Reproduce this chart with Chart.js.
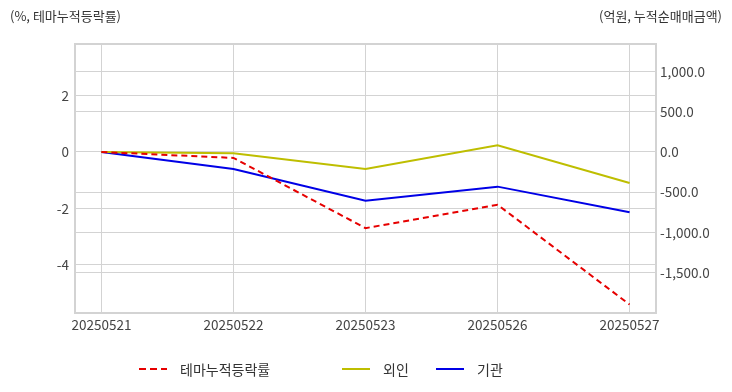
<!DOCTYPE html>
<html>
<head>
<meta charset="utf-8">
<script src="https://cdn.jsdelivr.net/npm/chart.js@4/dist/chart.umd.min.js"></script>
<style>
  body { margin: 0; background: #fff; }
  #wrap { position: relative; width: 732px; height: 392px; }
  .unit { position: absolute; top: 6px; font: 13px "Noto Sans CJK KR", sans-serif; color: #333; }
  #legend { position: absolute; left: 139px; top: 359px; height: 20px; display: flex; align-items: center;
            font: 14px "Noto Sans CJK KR", sans-serif; color: #333; }
  #legend .item { display: flex; align-items: center; }
  #legend .swatch { width: 28px; height: 2px; margin-right: 13px; }
  #legend .item:nth-child(1) { width: 203px; }
  #legend .item:nth-child(2) { width: 94px; }
</style>
</head>
<body>
<div id="wrap">
  <canvas id="chart" width="732" height="392"></canvas>
  <div class="unit" style="left:10px">(%, 테마누적등락률)</div>
  <div class="unit" style="right:10px">(억원, 누적순매매금액)</div>
  <div id="legend"></div>
</div>
<script>
// 날짜 (x축)
var dates = ['20250521', '20250522', '20250523', '20250526', '20250527'];

// 테마 누적 등락률 (%, 왼쪽 축)
var themeRate = [0, -0.21, -2.70, -1.87, -5.41];

// 누적 순매매 금액 (억원, 오른쪽 축)
var foreign = [0, -17, -211, 82, -385];
var institution = [0, -211, -604, -430, -749];

// 축 눈금
var leftTicks = [2, 0, -2, -4];
var rightTicks = [1000, 500, 0, -500, -1000, -1500];

var gridColor = '#d3d3d3';
var font = { family: '"Noto Sans CJK KR", sans-serif', size: 13.5 };

function toPoints(values) {
  return values.map(function (v, i) { return { x: i, y: v }; });
}

// 위쪽 테두리
var topBorder = {
  id: 'topBorder',
  afterDraw: function (chart) {
    var a = chart.chartArea, ctx = chart.ctx;
    ctx.save();
    ctx.strokeStyle = gridColor;
    ctx.lineWidth = 2;
    ctx.beginPath();
    ctx.moveTo(a.left, a.top);
    ctx.lineTo(a.right, a.top);
    ctx.stroke();
    ctx.restore();
  }
};

Chart.defaults.font = font;
Chart.defaults.color = '#444';

var ctx = document.getElementById('chart').getContext('2d');
var myChart = new Chart(ctx, {
  type: 'line',
  data: {
    datasets: [
      {
        label: '테마누적등락률',
        data: toPoints(themeRate),
        yAxisID: 'y',
        borderColor: 'rgb(230, 0, 0)',
        borderWidth: 2,
        borderDash: [6, 4],
        pointRadius: 0
      },
      {
        label: '외인',
        data: toPoints(foreign),
        yAxisID: 'y1',
        borderColor: 'rgb(190, 190, 0)',
        borderWidth: 2,
        pointRadius: 0
      },
      {
        label: '기관',
        data: toPoints(institution),
        yAxisID: 'y1',
        borderColor: 'rgb(0, 0, 230)',
        borderWidth: 2,
        pointRadius: 0
      }
    ]
  },
  options: {
    responsive: false,
    animation: false,
    layout: { padding: { top: 44, left: 0, right: 0, bottom: 51 } },
    plugins: {
      tooltip: { enabled: false },
      legend: { display: false }
    },
    scales: {
      x: {
        type: 'linear',
        min: -0.2,
        max: 4.2,
        afterBuildTicks: function (scale) {
          scale.ticks = dates.map(function (d, i) { return { value: i }; });
        },
        afterFit: function (scale) { scale.height = 28; },
        ticks: {
          padding: 4,
          maxRotation: 0,
          callback: function (v) { return dates[v]; }
        },
        grid: { color: gridColor, drawTicks: false },
        border: { color: gridColor, width: 2 }
      },
      y: {
        position: 'left',
        min: -5.71,
        max: 3.83,
        afterBuildTicks: function (scale) {
          scale.ticks = leftTicks.map(function (v) { return { value: v }; });
        },
        afterFit: function (scale) { scale.width = 75; },
        ticks: { padding: 6 },
        grid: { color: gridColor, drawTicks: false },
        border: { color: gridColor, width: 2 }
      },
      y1: {
        position: 'right',
        min: -1998,
        max: 1340,
        afterBuildTicks: function (scale) {
          scale.ticks = rightTicks.map(function (v) { return { value: v }; });
        },
        afterFit: function (scale) { scale.width = 76; },
        ticks: {
          padding: 4,
          callback: function (v) {
            return v.toLocaleString('en-US', { minimumFractionDigits: 1, maximumFractionDigits: 1 });
          }
        },
        grid: { color: gridColor, drawTicks: false },
        border: { color: gridColor, width: 2 }
      }
    }
  },
  plugins: [topBorder]
});

// 범례 (데이터셋에서 생성)
var legendEl = document.getElementById('legend');
myChart.data.datasets.forEach(function (ds) {
  var item = document.createElement('div');
  item.className = 'item';
  var sw = document.createElement('span');
  sw.className = 'swatch';
  if (ds.borderDash) {
    sw.style.background = 'repeating-linear-gradient(to right, ' + ds.borderColor + ' 0 7px, transparent 7px 11px)';
  } else {
    sw.style.background = ds.borderColor;
  }
  var txt = document.createElement('span');
  txt.textContent = ds.label;
  item.appendChild(sw);
  item.appendChild(txt);
  legendEl.appendChild(item);
});
</script>
</body>
</html>
